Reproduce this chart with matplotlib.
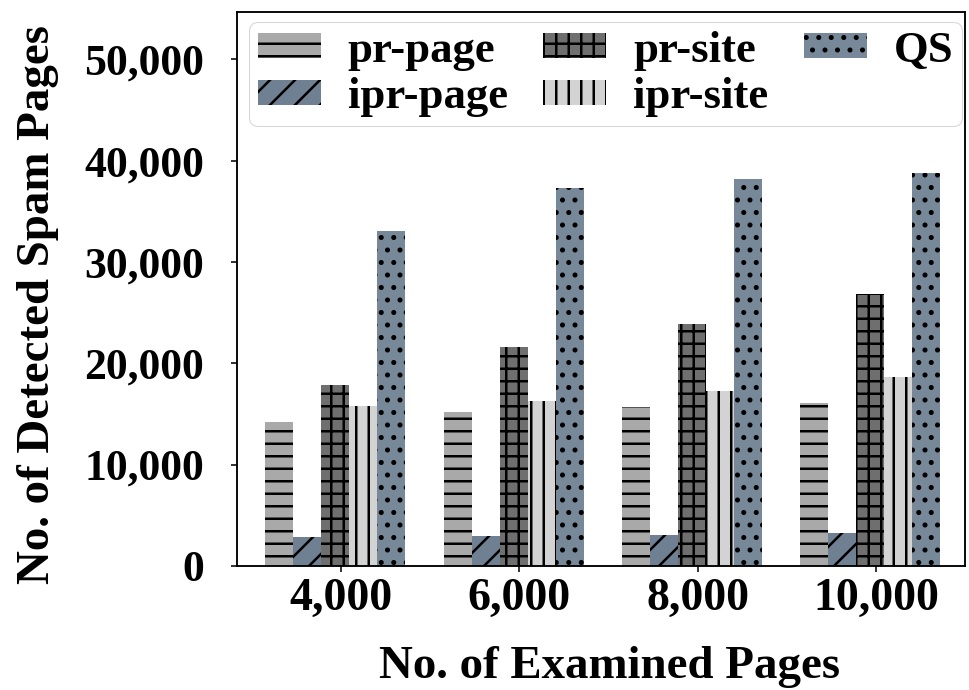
import numpy as np
import matplotlib.pyplot as plt
import matplotlib.ticker as mticker

plt.rcParams['font.family'] = ['Liberation Serif', 'DejaVu Serif']
plt.rcParams['font.weight'] = 'bold'
plt.rcParams['hatch.linewidth'] = 2.4

groups = ['4,000', '6,000', '8,000', '10,000']
labels = ['pr-page', 'ipr-page', 'pr-site', 'ipr-site', 'QS']
pr_page = [14200, 15200, 15700, 16100]
ipr_page = [2870, 2960, 3060, 3260]
pr_site = [17800, 21600, 23900, 26800]
ipr_site = [15800, 16300, 17300, 18600]
qs = [33100, 37300, 38200, 38800]

series = [pr_page, ipr_page, pr_site, ipr_site, qs]
colors = ['#a9a9a9', '#6e8092', '#6f6f6f', '#d3d3d3', '#778899']
hatches = ['-', '/', '+', '|', '.']

# low dpi so the hatch spacing comes out close to the original
fig, ax = plt.subplots(figsize=(969 / 75, 690 / 75), dpi=75)
x = np.arange(len(groups))
w = 0.157
for i, vals in enumerate(series):
    ax.bar(x + (i - 2.2) * w, vals, w, color=colors[i], hatch=hatches[i],
           edgecolor='black', linewidth=0, label=labels[i])

ax.set_xticks(x)
ax.set_xticklabels(groups)
ax.set_xlim(-0.58, 3.5)
ax.set_ylim(0, 54700)
ax.set_yticks([0, 10000, 20000, 30000, 40000, 50000])
ax.yaxis.set_major_formatter(mticker.FuncFormatter(lambda v, p: f'{int(v):,}'))
ax.tick_params(axis='x', labelsize=44, width=1.5, length=6, pad=6)
ax.tick_params(axis='y', labelsize=42, width=1.5, length=6, pad=26)
ax.set_xlabel('No. of Examined Pages', fontsize=45, fontweight='bold', labelpad=25)
ax.set_ylabel('No. of Detected Spam Pages', fontsize=45, fontweight='bold', labelpad=24)
ax.xaxis.label.set_x(0.511)
ax.yaxis.label.set_y(0.471)
for s in ax.spines.values():
    s.set_linewidth(1.8)

ax.legend(ncol=3, loc='upper center', bbox_to_anchor=(0.506, 1.0), fontsize=43,
          frameon=True, handlelength=1.4, handleheight=0.5, columnspacing=0.8,
          handletextpad=0.6, borderpad=0.2, labelspacing=0.15, borderaxespad=0.22)

plt.subplots_adjust(left=0.245, right=0.996, top=0.983, bottom=0.18)
plt.savefig('out.png')
